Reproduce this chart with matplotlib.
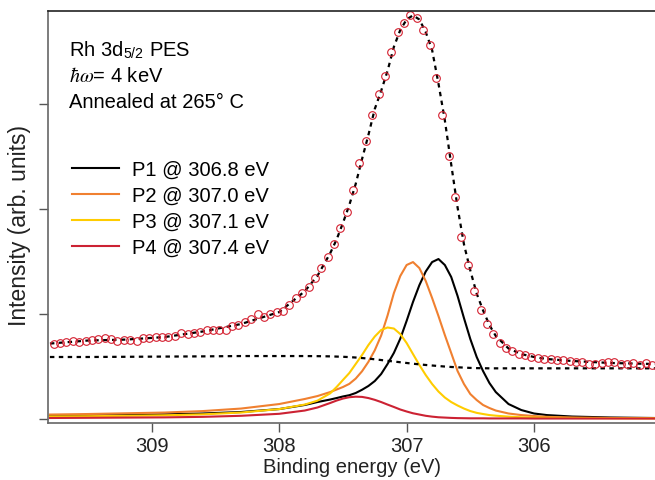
import numpy as np
import matplotlib.pyplot as plt

plt.rcParams['font.family'] = ['Liberation Sans', 'DejaVu Sans']
plt.rcParams['mathtext.fontset'] = 'stix'

# measured spectrum (scan grid 0.05 eV)
energy = np.linspace(309.77, 305.07, 95)
intensity = [
    0.710, 0.719, 0.731, 0.735, 0.731, 0.741, 0.750, 0.757, 0.764, 0.757,
    0.735, 0.750, 0.750, 0.735, 0.764, 0.767, 0.773, 0.773, 0.773, 0.783,
    0.814, 0.805, 0.814, 0.821, 0.843, 0.843, 0.843, 0.843, 0.878, 0.890,
    0.916, 0.948, 0.995, 0.964, 0.992, 1.011, 1.027, 1.081, 1.150, 1.195,
    1.255, 1.335, 1.430, 1.535, 1.665, 1.811, 1.970, 2.179, 2.430, 2.646,
    2.890, 3.090, 3.259, 3.493, 3.678,
    3.767, 3.843, 3.811, 3.703, 3.557, 3.243, 2.890, 2.503, 2.112, 1.726,
    1.462, 1.217, 1.036, 0.903, 0.805, 0.716,
    0.676, 0.643, 0.619, 0.605, 0.590, 0.581, 0.571, 0.567, 0.562,
    0.557, 0.545, 0.535, 0.535, 0.519, 0.519, 0.526, 0.535, 0.541, 0.519,
    0.519, 0.526, 0.512, 0.526, 0.512,
]

# fit components
fit_energy = [309.8, 309.5, 309.2, 308.9, 308.6, 308.3, 308.0, 307.8, 307.7, 307.6,
              307.55, 307.5, 307.45, 307.4, 307.35, 307.3, 307.25, 307.2, 307.15, 307.1,
              307.05, 307.0, 306.95, 306.9, 306.85, 306.8, 306.75, 306.7, 306.65, 306.6,
              306.55, 306.5, 306.45, 306.4, 306.35, 306.3, 306.2, 306.1, 306.0, 305.9,
              305.7, 305.4, 305.05]
p1 = [0.024, 0.029, 0.033, 0.040, 0.048, 0.062, 0.090, 0.129, 0.157, 0.181,
      0.195, 0.210, 0.222, 0.243, 0.274, 0.310, 0.357, 0.424, 0.519, 0.625,
      0.760, 0.930, 1.110, 1.270, 1.400, 1.490, 1.519, 1.462, 1.348, 1.167,
      0.957, 0.757, 0.586, 0.452, 0.338, 0.252, 0.138, 0.081, 0.048, 0.033,
      0.019, 0.010, 0.005]
p2 = [0.038, 0.043, 0.050, 0.057, 0.071, 0.095, 0.138, 0.186, 0.214, 0.252,
      0.276, 0.300, 0.330, 0.380, 0.450, 0.540, 0.650, 0.790, 0.980, 1.195,
      1.357, 1.462, 1.490, 1.433, 1.310, 1.148, 0.976, 0.795, 0.624, 0.452,
      0.329, 0.233, 0.176, 0.129, 0.100, 0.076, 0.048, 0.033, 0.024, 0.016,
      0.010, 0.005, 0.003]
p3 = [0.019, 0.022, 0.026, 0.031, 0.040, 0.057, 0.090, 0.133, 0.170, 0.240,
      0.300, 0.367, 0.433, 0.519, 0.605, 0.700, 0.781, 0.843, 0.867, 0.857,
      0.805, 0.719, 0.614, 0.510, 0.414, 0.329, 0.257, 0.200, 0.157, 0.124,
      0.095, 0.071, 0.054, 0.043, 0.033, 0.027, 0.018, 0.012, 0.009, 0.007,
      0.005, 0.003, 0.002]
p4 = [0.005, 0.007, 0.009, 0.011, 0.016, 0.026, 0.045, 0.076, 0.105, 0.148,
      0.171, 0.190, 0.203, 0.208, 0.206, 0.195, 0.178, 0.157, 0.133, 0.110,
      0.086, 0.067, 0.050, 0.038, 0.026, 0.018, 0.012, 0.009, 0.006, 0.004,
      0.003, 0.002, 0.002, 0.002, 0.001, 0.001, 0.001, 0.001, 0.0, 0.0,
      0.0, 0.0, 0.0]
background = [0.586, 0.586, 0.588, 0.590, 0.592, 0.595, 0.595, 0.595, 0.594, 0.592,
              0.590, 0.588, 0.585, 0.581, 0.576, 0.571, 0.564, 0.557, 0.550, 0.543,
              0.536, 0.529, 0.522, 0.516, 0.510, 0.505, 0.500, 0.495, 0.491, 0.488,
              0.485, 0.482, 0.480, 0.479, 0.478, 0.478, 0.478, 0.478, 0.478, 0.478,
              0.478, 0.478, 0.478]
envelope = [0.714, 0.743, 0.752, 0.776, 0.829, 0.900, 1.014, 1.212, 1.359, 1.574,
            1.704, 1.862, 2.033, 2.233, 2.471, 2.700, 2.948, 3.120, 3.310, 3.540,
            3.700, 3.800, 3.840, 3.800, 3.680, 3.510, 3.190, 2.840, 2.420, 2.010,
            1.660, 1.410, 1.190, 1.030, 0.890, 0.786, 0.667, 0.614, 0.586, 0.567,
            0.548, 0.529, 0.519]

labels = ['P1 @ 306.8 eV', 'P2 @ 307.0 eV', 'P3 @ 307.1 eV', 'P4 @ 307.4 eV']
colors = ['black', '#f08030', '#ffcc00', '#cc2233']

fs = 14.5
fig = plt.figure(figsize=(6.55, 4.81), dpi=100)
ax = fig.add_axes([0.0737, 0.1195, 0.9263 + 0.002, 0.8562])

for comp, lab, c in zip([p1, p2, p3, p4], labels, colors):
    ax.plot(fit_energy, comp, color=c, lw=1.5, label=lab)
ax.plot(fit_energy, background, color='black', lw=1.6, ls=(0, (2, 2)))
ax.plot(fit_energy, envelope, color='black', lw=1.6, ls=(0, (2, 2)))
ax.plot(energy, intensity, 'o', mfc='none', mec='#d42030', ms=5.5, mew=0.8)

ax.set_xlim(309.813, 305.04)
ax.set_ylim(-0.038, 3.884)
ax.set_xticks([309, 308, 307, 306])
ax.set_yticks([0, 1, 2, 3])
ax.set_yticklabels([])
ax.tick_params(direction='out', length=6.5, width=1, colors='#555555',
               labelcolor='#222222', labelsize=fs)
ax.spines['right'].set_visible(False)
for s in ['left', 'bottom']:
    ax.spines[s].set_color('#666666')
    ax.spines[s].set_linewidth(1.2)
ax.spines['top'].set_color('#222222')
ax.spines['top'].set_linewidth(1.2)

ax.set_xlabel('Binding energy (eV)', fontsize=fs, color='#222222', labelpad=1)
ax.set_ylabel('Intensity (arb. units)', fontsize=16.5, color='#222222')
ax.yaxis.set_label_coords(-0.0285, 0.48)

ax.text(0.0346, 0.8925, r'Rh 3d$_{\mathregular{5/2}}$ PES', transform=ax.transAxes,
        fontsize=fs, va='baseline')
ax.text(0.0346, 0.830, r'$\hbar\omega$= 4 keV', transform=ax.transAxes,
        fontsize=fs, va='baseline')
ax.text(0.0346, 0.7654, 'Annealed at 265\u00b0 C', transform=ax.transAxes,
        fontsize=fs, va='baseline')

ax.legend(loc='upper left', bbox_to_anchor=(0.0264, 0.657), frameon=False,
          fontsize=fs, handlelength=2.3, handletextpad=0.67, labelspacing=0.35,
          borderaxespad=0)

fig.savefig('out.png', dpi=100)
